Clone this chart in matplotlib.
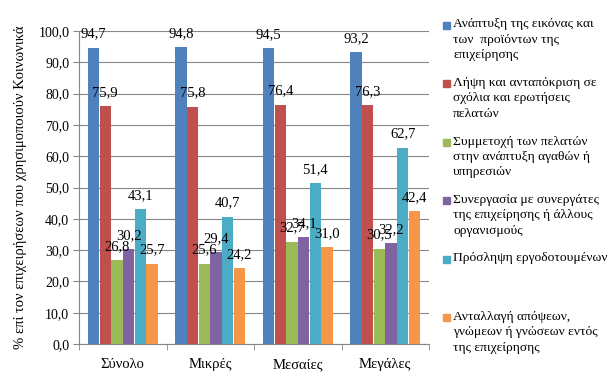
import numpy as np
import matplotlib
matplotlib.use("Agg")
import matplotlib.pyplot as plt
from matplotlib.patches import Rectangle

plt.rcParams['font.family'] = ['Liberation Serif', 'DejaVu Serif']

categories = ["Σύνολο", "Μικρές", "Μεσαίες", "Μεγάλες"]
series_names = [
    "Ανάπτυξη της εικόνας και\nτων  προϊόντων της\nεπιχείρησης",
    "Λήψη και ανταπόκριση σε\nσχόλια και ερωτήσεις\nπελατών",
    "Συμμετοχή των πελατών\nστην ανάπτυξη αγαθών ή\nυπηρεσιών",
    "Συνεργασία με συνεργάτες\nτης επιχείρησης ή άλλους\nοργανισμούς",
    "Πρόσληψη εργοδοτουμένων",
    "Ανταλλαγή απόψεων,\nγνώμεων ή γνώσεων εντός\nτης επιχείρησης",
]
image = [94.7, 94.8, 94.5, 93.2]
feedback = [75.9, 75.8, 76.4, 76.3]
customers = [26.8, 25.6, 32.7, 30.5]
partners = [30.2, 29.4, 34.1, 32.2]
recruitment = [43.1, 40.7, 51.4, 62.7]
exchange = [25.7, 24.2, 31.0, 42.4]
values = [image, feedback, customers, partners, recruitment, exchange]
colors = ["#4F81BD", "#C0504D", "#9BBB59", "#8064A2", "#4BACC6", "#F79646"]
ylabel = "% επί τον επιχειρήσεων που χρησιμοποιούν Κοινωνικά"

fig = plt.figure(figsize=(6.14, 3.8), dpi=100)
ax = fig.add_axes([79 / 614, 1 - 344 / 380, 350 / 614, 313 / 380])

x = np.arange(len(categories))
n = len(values)
w = 0.8 / n
fmt = lambda v: f"{v:.1f}".replace(".", ",")
for i, (vals, c) in enumerate(zip(values, colors)):
    pos = x - 0.4 + w * (i + 0.5)
    ax.bar(pos, vals, width=w * 0.98, color=c, zorder=3)
    for p, v in zip(pos, vals):
        ax.text(p, v + 2.3, fmt(v), ha="center", va="bottom", fontsize=10.5, zorder=4)

ax.set_xlim(-0.5, len(categories) - 0.5)
ax.set_ylim(0, 100)
ax.set_yticks(np.arange(0, 101, 10))
ax.set_yticklabels([fmt(v) for v in np.arange(0, 101, 10)], fontsize=10)
ax.set_xticks(x)
ax.set_xticklabels(categories, fontsize=10.5)
ax.set_xticks(np.arange(-0.5, len(categories), 1), minor=True)
ax.tick_params(axis="x", which="major", length=0, pad=10)
ax.tick_params(axis="x", which="minor", length=4, color="#868686")
ax.tick_params(axis="y", length=4, color="#868686", pad=3)
ax.grid(axis="y", color="#868686", linewidth=0.8, zorder=0)
for s in ["top", "right"]:
    ax.spines[s].set_visible(False)
for s in ["left", "bottom"]:
    ax.spines[s].set_color("#868686")
ax.set_ylabel(ylabel, fontsize=10.5, labelpad=8)

# legend drawn by hand, Excel-style evenly spaced entries
for i, (name, c) in enumerate(zip(series_names, colors)):
    yc = 25 + i * 58.5
    fig.add_artist(Rectangle((443 / 614, 1 - (yc + 3.5) / 380), 7 / 614, 7 / 380,
                             transform=fig.transFigure, color=c))
    fig.text(453 / 614, 1 - (yc - 6.5) / 380, name, ha="left", va="top",
             fontsize=9.7, linespacing=1.38)

fig.savefig("out.png", dpi=100)
